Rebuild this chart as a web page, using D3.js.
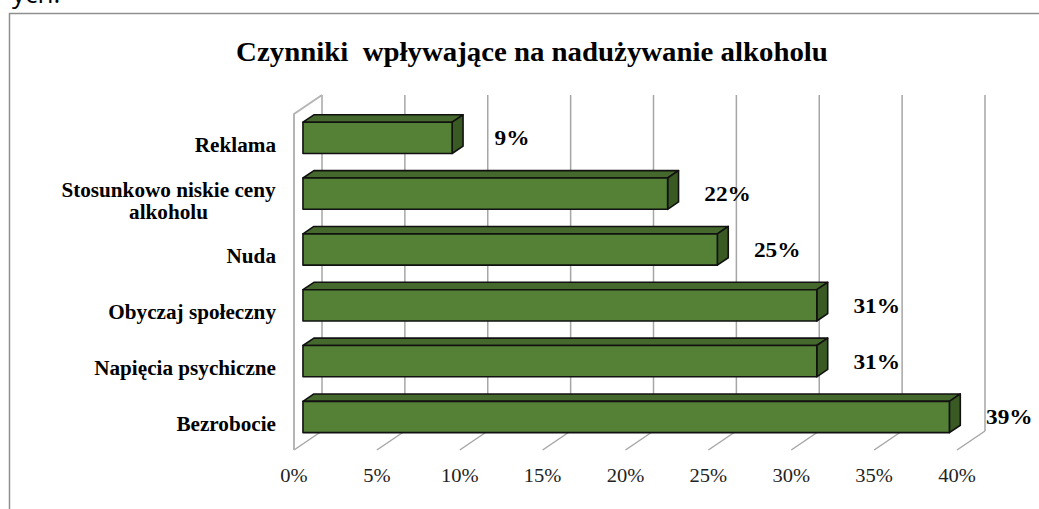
<!DOCTYPE html>
<html>
<head>
<meta charset="utf-8">
<script src="https://cdn.jsdelivr.net/npm/d3@7"></script>
<style>
body { margin: 0; background: #fff; }
svg { display: block; }
</style>
</head>
<body>
<svg id="chart" width="1039" height="509"></svg>
<script>
// data
const categories = ["Reklama", "Stosunkowo niskie ceny\nalkoholu", "Nuda", "Obyczaj społeczny", "Napięcia psychiczne", "Bezrobocie"];
const values = [9, 22, 25, 31, 31, 39];
const tickValues = [0, 5, 10, 15, 20, 25, 30, 35, 40];
const title = "Czynniki  wpływające na nadużywanie alkoholu";

const svg = d3.select('#chart');

// 3d look: front plane + depth vector
const depth = {dx: 28, dy: -19};
const barDepth = [0.32, 0.71];
const plotTop = 114, plotBottom = 450;

const x = d3.scaleLinear().domain([0, 40]).range([294, 957]);
const y = d3.scaleBand().domain(categories).range([116, 451])
	.paddingInner(0.44).paddingOuter(0.22);

// fragment of text above the chart box (cut off by the page)
svg.append('text')
	.attr('x', 12).attr('y', 3)
	.style('font-family', 'Open Sans, sans-serif')
	.style('font-size', '26px')
	.text('ych:');

// chart box
svg.append('path')
	.attr('d', 'M9.5,509 V13.5 H1039')
	.style('fill', 'none')
	.style('stroke', '#8f8f8f')
	.style('stroke-width', 1.5);

// back wall gridlines
svg.selectAll('line.grid')
	.data(tickValues)
	.enter()
	.append('line')
	.attr('class', 'grid')
	.attr('x1', d => x(d) + depth.dx)
	.attr('x2', d => x(d) + depth.dx)
	.attr('y1', plotTop + depth.dy)
	.attr('y2', plotBottom + depth.dy)
	.style('stroke', '#a6a6a6')
	.style('stroke-width', 1.5);

// floor lines
svg.selectAll('line.floor')
	.data(tickValues)
	.enter()
	.append('line')
	.attr('class', 'floor')
	.attr('x1', d => x(d) + depth.dx)
	.attr('y1', plotBottom + depth.dy)
	.attr('x2', d => x(d))
	.attr('y2', plotBottom)
	.style('stroke', '#a6a6a6')
	.style('stroke-width', 1.5);

// left wall
svg.append('path')
	.attr('d', `M${x(0)},${plotBottom} V${plotTop} L${x(0) + depth.dx},${plotTop + depth.dy}`)
	.style('fill', 'none')
	.style('stroke', '#b5b5b5')
	.style('stroke-width', 2);

// bars
const bw = y.bandwidth();
const fdx = depth.dx * barDepth[0], fdy = depth.dy * barDepth[0];
const bdx = depth.dx * (barDepth[1] - barDepth[0]), bdy = depth.dy * (barDepth[1] - barDepth[0]);
const rows = categories.map((c, i) => ({c: c, v: values[i]}));

const bars = svg.selectAll('g.bar')
	.data(rows)
	.enter()
	.append('g')
	.attr('class', 'bar')
	.style('stroke', '#111')
	.style('stroke-width', 1.6)
	.style('stroke-linejoin', 'round');

bars.append('path')
	.attr('d', d => {
		const x0 = x(0) + fdx, x1 = x(d.v) + fdx, yt = y(d.c) + fdy;
		return `M${x0},${yt} L${x0 + bdx},${yt + bdy} H${x1 + bdx} L${x1},${yt} Z`;
	})
	.style('fill', '#45692c');

bars.append('path')
	.attr('d', d => {
		const x1 = x(d.v) + fdx, yt = y(d.c) + fdy;
		return `M${x1},${yt} L${x1 + bdx},${yt + bdy} V${yt + bdy + bw} L${x1},${yt + bw} Z`;
	})
	.style('fill', '#3a5a24');

bars.append('rect')
	.attr('x', x(0) + fdx)
	.attr('y', d => y(d.c) + fdy)
	.attr('width', d => x(d.v) - x(0))
	.attr('height', bw)
	.style('fill', '#558137');

// value labels
svg.selectAll('text.value')
	.data(rows)
	.enter()
	.append('text')
	.attr('class', 'value')
	.attr('transform', d => `translate(${x(d.v) + depth.dx * barDepth[1] + 49},${y(d.c) + fdy + bw / 2}) scale(1.06,1)`)
	.attr('text-anchor', 'middle')
	.attr('dy', '0.34em')
	.style('font-family', 'Liberation Serif, Times New Roman, serif')
	.style('font-weight', 'bold')
	.style('font-size', '22px')
	.text(d => d.v + '%');

// category labels
const catLabels = svg.selectAll('g.cat')
	.data(categories)
	.enter()
	.append('g')
	.attr('class', 'cat')
	.attr('transform', d => `translate(276,${y(d) + y.bandwidth() / 2 + 1}) scale(1.06,1)`);

catLabels.each(function (d) {
	const lines = d.split('\n');
	const g = d3.select(this);
	const t = g.append('text')
		.attr('text-anchor', lines.length > 1 ? 'middle' : 'end')
		.style('font-family', 'Liberation Serif, Times New Roman, serif')
		.style('font-weight', 'bold')
		.style('font-size', '20px');
	lines.forEach((l, i) => {
		t.append('tspan')
			.attr('x', 0)
			.attr('y', (i - (lines.length - 1) / 2) * 22)
			.attr('dy', '0.34em')
			.text(l);
	});
	if (lines.length > 1) {
		// right-align the block, lines centered on each other
		const w = t.node().getBBox().width;
		t.attr('x', 0).attr('transform', `translate(${-w / 2},0)`);
	}
});

// x tick labels
svg.selectAll('text.tick')
	.data(tickValues)
	.enter()
	.append('text')
	.attr('class', 'tick')
	.attr('transform', d => `translate(${x(d)},482) scale(1.08,1)`)
	.attr('text-anchor', 'middle')
	.style('font-family', 'Liberation Serif, Times New Roman, serif')
	.style('font-size', '19px')
	.style('fill', '#222')
	.text(d => d + '%');

// title
svg.append('text')
	.attr('transform', 'translate(532,61) scale(1.03,1)')
	.attr('text-anchor', 'middle')
	.style('font-family', 'Liberation Serif, Times New Roman, serif')
	.style('font-weight', 'bold')
	.style('font-size', '28px')
	.style('white-space', 'pre')
	.text(title);
</script>
</body>
</html>
